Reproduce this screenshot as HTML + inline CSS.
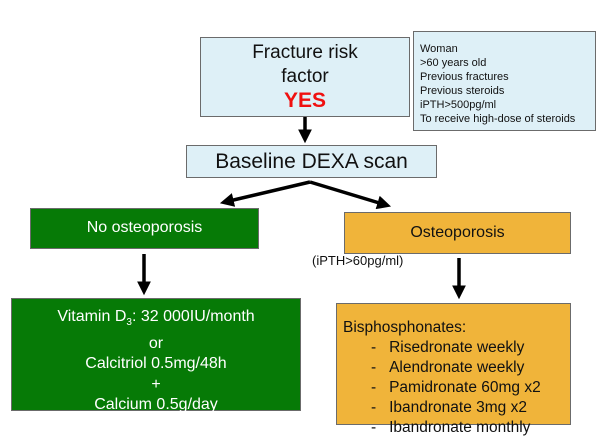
<!DOCTYPE html>
<html><head><meta charset="utf-8"><style>
body{margin:0;width:600px;height:427px;background:#fff;position:relative;overflow:hidden;font-family:"Liberation Sans","DejaVu Sans",sans-serif}
.b{position:absolute;box-sizing:border-box;border:1px solid #6b6b6b}
.lb{background:#def0f7}
.g{background:#067a06;color:#fff}
.o{background:#f0b43a;color:#111}
</style></head><body>
<div class="b lb" style="left:200px;top:37px;width:210px;height:80px;text-align:center;font-size:19px;line-height:24px;padding-top:3px;color:#111">Fracture risk<br>factor<br><b style="color:#f01010;font-size:21px">YES</b></div>
<div class="b lb" style="left:413px;top:31px;width:183px;height:100px;font-size:11px;line-height:14px;padding:10px 0 0 6px;color:#111">Woman<br>&gt;60 years old<br>Previous fractures<br>Previous steroids<br>iPTH&gt;500pg/ml<br>To receive high-dose of steroids</div>
<div class="b lb" style="left:186px;top:145px;width:251px;height:33px;text-align:center;font-size:21px;line-height:31px;color:#111">Baseline DEXA scan</div>
<div class="b g" style="left:30px;top:208px;width:229px;height:41px;text-align:center;font-size:16px;line-height:38px">No osteoporosis</div>
<div class="b o" style="left:344px;top:212px;width:227px;height:42px;text-align:center;font-size:16px;line-height:40px">Osteoporosis</div>
<div style="position:absolute;left:312px;top:253px;font-size:13px;color:#111">(iPTH&gt;60pg/ml)</div>
<div class="b g" style="left:11px;top:298px;width:290px;height:113px;text-align:center;font-size:16px;line-height:20.5px;padding-top:8px">Vitamin D<sub style="font-size:10px">3</sub>: 32 000IU/month<br>or<br>Calcitriol 0.5mg/48h<br>+<br>Calcium 0.5g/day</div>
<div class="b o" style="left:336px;top:303px;width:235px;height:122px;font-size:15.5px;line-height:20px;padding:14px 0 0 6px">Bisphosphonates:<br>
<div style="padding-left:28px">-&nbsp;&nbsp;&nbsp;Risedronate weekly<br>-&nbsp;&nbsp;&nbsp;Alendronate weekly<br>-&nbsp;&nbsp;&nbsp;Pamidronate 60mg x2<br>-&nbsp;&nbsp;&nbsp;Ibandronate 3mg x2<br>-&nbsp;&nbsp;&nbsp;Ibandronate monthly</div></div>
<svg style="position:absolute;left:0;top:0" width="600" height="427">
<defs><marker id="a" markerWidth="4" markerHeight="4" refX="2.5" refY="2" orient="auto" markerUnits="strokeWidth"><path d="M0,0 L4,2 L0,4 z" fill="#000"/></marker></defs>
<g stroke="#000" stroke-width="3.5" fill="none">
<line x1="305" y1="117" x2="305" y2="138" marker-end="url(#a)"/>
<line x1="310" y1="182" x2="225" y2="202" marker-end="url(#a)"/>
<line x1="310" y1="182" x2="386" y2="205" marker-end="url(#a)"/>
<line x1="144" y1="254" x2="144" y2="290" marker-end="url(#a)"/>
<line x1="459" y1="258" x2="459" y2="294" marker-end="url(#a)"/>
</g></svg>
</body></html>
